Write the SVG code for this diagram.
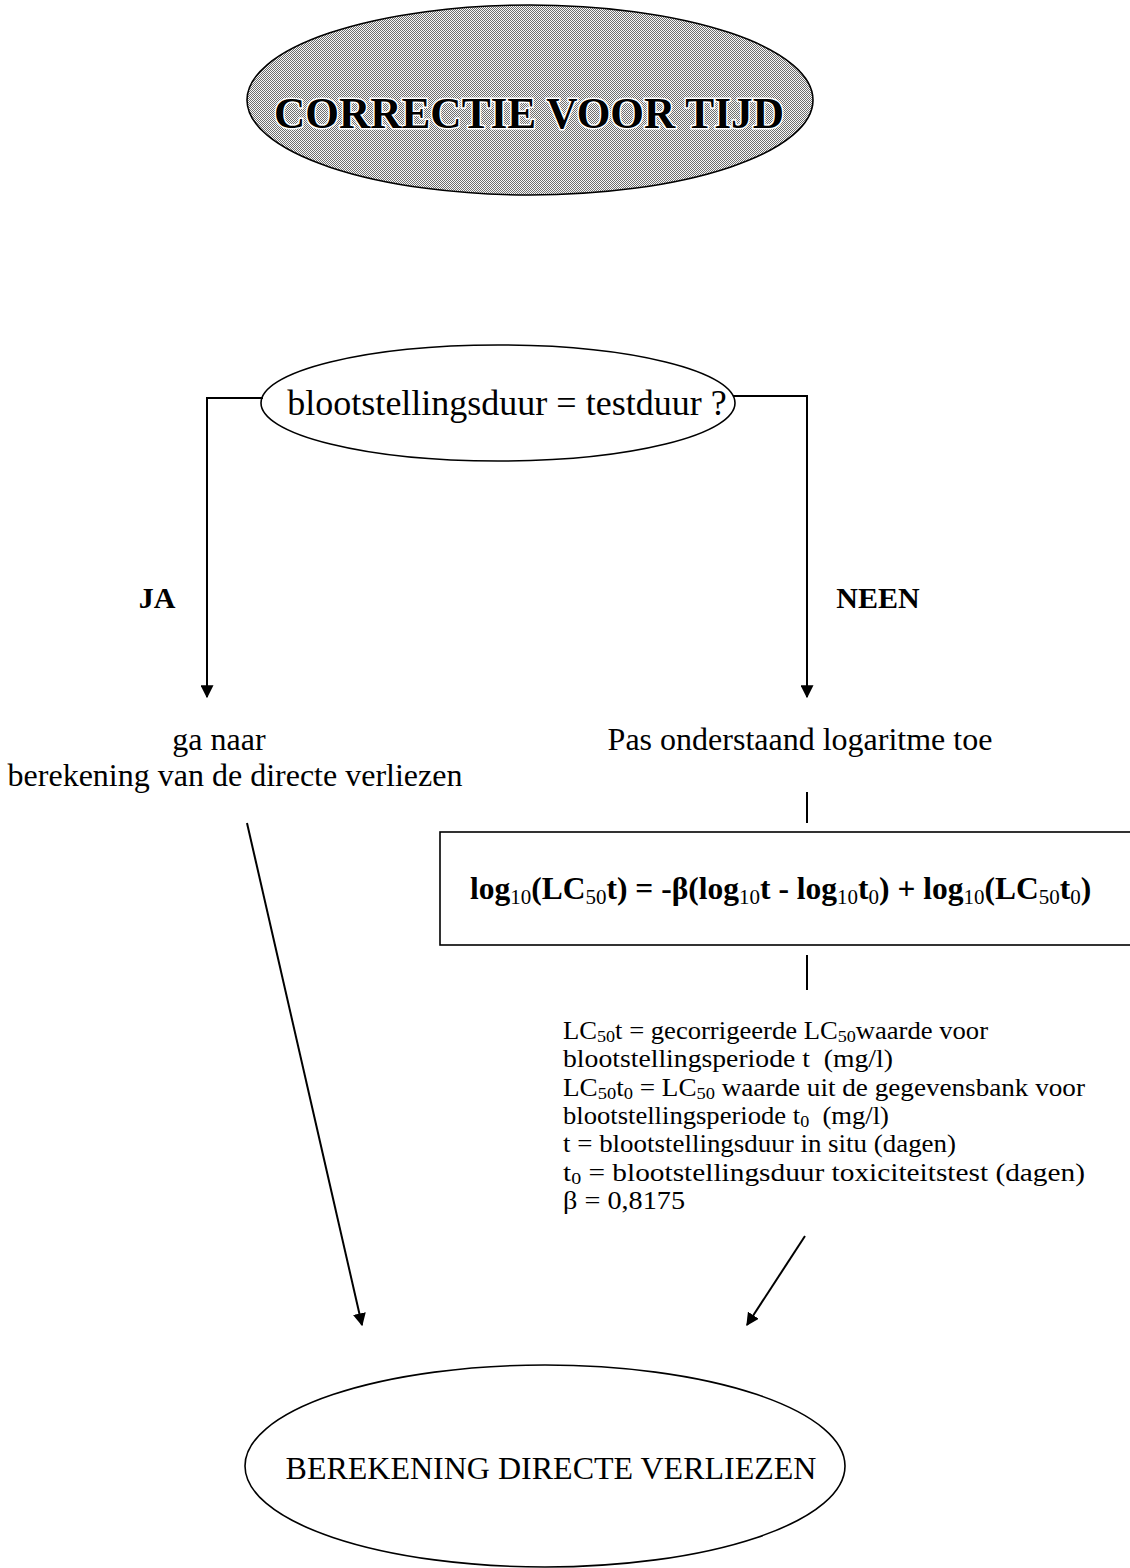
<svg xmlns="http://www.w3.org/2000/svg" width="1130" height="1568" viewBox="0 0 1130 1568">
<style>
  text { font-family: "Liberation Serif", "Times New Roman", serif; fill: #000; }
  .node { fill: none; stroke: #000; stroke-width: 1.6; }
  .conn { fill: none; stroke: #000; stroke-width: 2; }
  .lbl { font-size: 32px; }
  .bold { font-weight: bold; }
  .leg { font-size: 25px; }
  .sub { font-size: 17px; }
</style>
<defs>
  <pattern id="dots" width="2" height="2" patternUnits="userSpaceOnUse">
    <rect width="2" height="2" fill="#f8f8f8"/>
    <rect x="0" y="0" width="1" height="1" fill="#6e6e6e"/>
    <rect x="1" y="1" width="1" height="1" fill="#6e6e6e"/>
  </pattern>
  <marker id="arr" viewBox="0 0 10 10" refX="9" refY="5" markerWidth="13" markerHeight="13" markerUnits="userSpaceOnUse" orient="auto">
    <path d="M0,0 L10,5 L0,10 z" fill="#000"/>
  </marker>
</defs>

<g id="connectors">
  <polyline class="conn" points="263,398 207,398 207,697" marker-end="url(#arr)"/>
  <polyline class="conn" points="733,396 807,396 807,697" marker-end="url(#arr)"/>
  <line class="conn" x1="807" y1="792" x2="807" y2="823"/>
  <line class="conn" x1="807" y1="955" x2="807" y2="990"/>
  <line class="conn" x1="247" y1="823" x2="362" y2="1325" marker-end="url(#arr)"/>
  <line class="conn" x1="805" y1="1236" x2="747" y2="1325" marker-end="url(#arr)"/>
</g>

<g id="node-title">
  <ellipse cx="530" cy="100" rx="283" ry="95" fill="url(#dots)" stroke="#000" stroke-width="1.6"/>
  <text x="529" y="128" text-anchor="middle" font-size="44" font-weight="bold" stroke="#fff" stroke-width="3" paint-order="stroke" textLength="510" lengthAdjust="spacingAndGlyphs">CORRECTIE VOOR TIJD</text>
</g>

<g id="node-question">
  <ellipse class="node" cx="498" cy="403" rx="237" ry="58"/>
  <text x="507" y="415" text-anchor="middle" font-size="36">blootstellingsduur = testduur ?</text>
</g>

<g id="label-ja">
  <text x="157" y="608" text-anchor="middle" font-size="30" class="bold">JA</text>
</g>
<g id="label-neen">
  <text x="878" y="608" text-anchor="middle" font-size="30" class="bold">NEEN</text>
</g>

<g id="node-ganaar">
  <text class="lbl" x="219" y="750" text-anchor="middle">ga naar</text>
  <text class="lbl" x="235" y="786" text-anchor="middle">berekening van de directe verliezen</text>
</g>

<g id="node-pas">
  <text class="lbl" x="800" y="750" text-anchor="middle">Pas onderstaand logaritme toe</text>
</g>

<g id="node-formula">
  <rect class="node" x="440" y="832" width="700" height="113"/>
  <text x="470" y="899" font-size="31.5" font-weight="bold">log<tspan font-size="21" font-weight="normal" dy="5">10</tspan><tspan dy="-5">(LC</tspan><tspan font-size="21" font-weight="normal" dy="5">50</tspan><tspan dy="-5">t) = -β(log</tspan><tspan font-size="21" font-weight="normal" dy="5">10</tspan><tspan dy="-5">t - log</tspan><tspan font-size="21" font-weight="normal" dy="5">10</tspan><tspan dy="-5">t</tspan><tspan font-size="21" font-weight="normal" dy="5">0</tspan><tspan dy="-5">) + log</tspan><tspan font-size="21" font-weight="normal" dy="5">10</tspan><tspan dy="-5">(LC</tspan><tspan font-size="21" font-weight="normal" dy="5">50</tspan><tspan dy="-5">t</tspan><tspan font-size="21" font-weight="normal" dy="5">0</tspan><tspan dy="-5">)</tspan></text>
</g>

<g id="node-legend">
  <text class="leg" x="563" y="1039" textLength="425" lengthAdjust="spacingAndGlyphs">LC<tspan class="sub" dy="3">50</tspan><tspan dy="-3">t = gecorrigeerde LC</tspan><tspan class="sub" dy="3">50</tspan><tspan dy="-3">waarde voor</tspan></text>
  <text class="leg" x="563" y="1067" textLength="330" lengthAdjust="spacingAndGlyphs">blootstellingsperiode t&#160; (mg/l)</text>
  <text class="leg" x="563" y="1096" textLength="522" lengthAdjust="spacingAndGlyphs">LC<tspan class="sub" dy="3">50</tspan><tspan dy="-3">t</tspan><tspan class="sub" dy="3">0</tspan><tspan dy="-3"> = LC</tspan><tspan class="sub" dy="3">50</tspan><tspan dy="-3"> waarde uit de gegevensbank voor</tspan></text>
  <text class="leg" x="563" y="1124" textLength="326" lengthAdjust="spacingAndGlyphs">blootstellingsperiode t<tspan class="sub" dy="3">0</tspan><tspan dy="-3">&#160; (mg/l)</tspan></text>
  <text class="leg" x="563" y="1152" textLength="393" lengthAdjust="spacingAndGlyphs">t = blootstellingsduur in situ (dagen)</text>
  <text class="leg" x="563" y="1181" textLength="522" lengthAdjust="spacingAndGlyphs">t<tspan class="sub" dy="3">0</tspan><tspan dy="-3"> = blootstellingsduur toxiciteitstest (dagen)</tspan></text>
  <text class="leg" x="563" y="1209" textLength="122" lengthAdjust="spacingAndGlyphs">β = 0,8175</text>
</g>

<g id="node-berekening">
  <ellipse class="node" cx="545" cy="1466" rx="300" ry="101"/>
  <text x="551" y="1479" text-anchor="middle" font-size="32">BEREKENING DIRECTE VERLIEZEN</text>
</g>
</svg>
